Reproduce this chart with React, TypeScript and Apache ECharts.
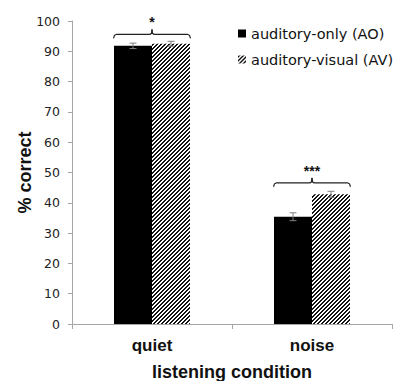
import React, { useEffect, useRef } from "react";
import * as echarts from "echarts";

const categories = ["quiet", "noise"];
const aoValues = [91.8, 35.4];
const avValues = [92.5, 42.8];
const aoErrors = [0.9, 1.3];
const avErrors = [0.8, 1.0];
const seriesNames = ["auditory-only (AO)", "auditory-visual (AV)"];
const bracketLevels = [95.6, 46.6];
const sigLabels = ["*", "***"];
const yTicks = { min: 0, max: 100, interval: 10 };

const BAR_W = 38;

function makeHatch(): string {
  const c = document.createElement("canvas");
  c.width = 4;
  c.height = 4;
  const ctx = c.getContext("2d")!;
  const img = ctx.createImageData(4, 4);
  for (let y = 0; y < 4; y++) {
    for (let x = 0; x < 4; x++) {
      const i = (y * 4 + x) * 4;
      const dark = (x + y) % 4 < 2;
      const v = dark ? 20 : 255;
      img.data[i] = v;
      img.data[i + 1] = v;
      img.data[i + 2] = v;
      img.data[i + 3] = 255;
    }
  }
  ctx.putImageData(img, 0, 0);
  return c.toDataURL();
}

export default function App() {
  const ref = useRef<HTMLDivElement>(null);
  useEffect(() => {
    document.body.style.margin = "0";
    document.body.style.overflow = "hidden";
    if (!ref.current) return;
    const chart = echarts.init(ref.current, null, { renderer: "svg" });
    const hatch = { image: makeHatch(), repeat: "repeat", imageWidth: 4, imageHeight: 4 } as any;
    const font = "DejaVu Sans";
    const boldFont = "Liberation Sans, Arial, sans-serif";

    const errData = [
      ...aoValues.map((v, i) => [i, v, aoErrors[i], -1]),
      ...avValues.map((v, i) => [i, v, avErrors[i], 1]),
    ];
    const bracketData = bracketLevels.map((v, i) => [i, v, sigLabels[i]]);

    chart.setOption({
      animation: false,
      grid: { left: 72, right: 2, top: 21, bottom: 57, containLabel: false, outerBoundsMode: "none" },
      legend: {
        orient: "vertical",
        left: 233,
        top: 21,
        itemWidth: 8,
        itemHeight: 8,
        itemGap: 11,
        icon: "rect",
        textStyle: { fontFamily: font, fontSize: 14.5, color: "#111" },
        data: seriesNames,
      },
      xAxis: {
        type: "category",
        data: categories,
        axisLine: { lineStyle: { color: "#a6a6a6" } },
        axisTick: { show: true, length: 5, lineStyle: { color: "#a6a6a6" } },
        axisLabel: { fontFamily: boldFont, fontWeight: "bold", fontSize: 17, color: "#111", margin: 13 },
        name: "listening condition",
        nameLocation: "middle",
        nameGap: 39,
        nameMoveOverlap: false,
        nameTextStyle: { fontFamily: boldFont, fontWeight: "bold", fontSize: 18, color: "#111" },
      },
      yAxis: {
        type: "value",
        min: yTicks.min,
        max: yTicks.max,
        interval: yTicks.interval,
        splitLine: { show: false },
        axisLine: { show: true, lineStyle: { color: "#a6a6a6" } },
        axisTick: { show: true, length: 4, lineStyle: { color: "#a6a6a6" } },
        axisLabel: { fontFamily: font, fontSize: 12.5, color: "#222", margin: 12 },
        name: "% correct",
        nameLocation: "middle",
        nameGap: 38,
        nameMoveOverlap: false,
        nameTextStyle: { fontFamily: boldFont, fontWeight: "bold", fontSize: 18, color: "#111" },
      },
      series: [
        {
          name: seriesNames[0],
          type: "bar",
          data: aoValues,
          barWidth: BAR_W,
          barGap: "0%",
          itemStyle: { color: "#000" },
        },
        {
          name: seriesNames[1],
          type: "bar",
          data: avValues,
          barWidth: BAR_W,
          barGap: "0%",
          itemStyle: { color: hatch },
        },
        {
          type: "custom",
          name: "err",
          data: errData,
          encode: { x: 0, y: 1 },
          z: 5,
          silent: true,
          renderItem: (params: any, api: any) => {
            const idx = api.value(0);
            const v = api.value(1);
            const e = api.value(2);
            const side = api.value(3);
            const top = api.coord([idx, v + e]);
            const bot = api.coord([idx, v - e]);
            const x = top[0] + side * (BAR_W / 2);
            const cap = 3.5;
            const st = { stroke: "#7f7f7f", lineWidth: 1 };
            return {
              type: "group",
              children: [
                { type: "line", shape: { x1: x, y1: top[1], x2: x, y2: bot[1] }, style: st },
                { type: "line", shape: { x1: x - cap, y1: top[1], x2: x + cap, y2: top[1] }, style: st },
                { type: "line", shape: { x1: x - cap, y1: bot[1], x2: x + cap, y2: bot[1] }, style: st },
              ],
            };
          },
        },
        {
          type: "custom",
          name: "sig",
          data: bracketData,
          encode: { x: 0, y: 1 },
          z: 5,
          silent: true,
          renderItem: (params: any, api: any) => {
            const idx = api.value(0);
            const v = api.value(1);
            const p = api.coord([idx, v]);
            const half = BAR_W + 0.5;
            const x1 = p[0] - half;
            const x2 = p[0] + half;
            const y = p[1];
            const st = { stroke: "#222", lineWidth: 1.2, fill: "none" };
            return {
              type: "group",
              children: [
                {
                  type: "polyline",
                  shape: { points: [[x1, y + 4], [x1 + 1, y + 1], [x1 + 3, y], [p[0] - 2, y], [p[0] - 0.5, y - 1], [p[0], y - 5]] },
                  style: st,
                },
                {
                  type: "polyline",
                  shape: { points: [[x2, y + 4], [x2 - 1, y + 1], [x2 - 3, y], [p[0] + 2, y], [p[0] + 0.5, y - 1], [p[0], y - 5]] },
                  style: st,
                },
                {
                  type: "text",
                  style: {
                    text: sigLabels[idx],
                    x: p[0],
                    y: y - 12,
                    align: "center",
                    verticalAlign: "middle",
                    font: "bold 14px Liberation Sans, Arial, sans-serif",
                    fill: "#111",
                  },
                },
              ],
            };
          },
        },
      ],
    });
    return () => chart.dispose();
  }, []);
  return <div ref={ref} style={{ width: 394, height: 381 }} />;
}
